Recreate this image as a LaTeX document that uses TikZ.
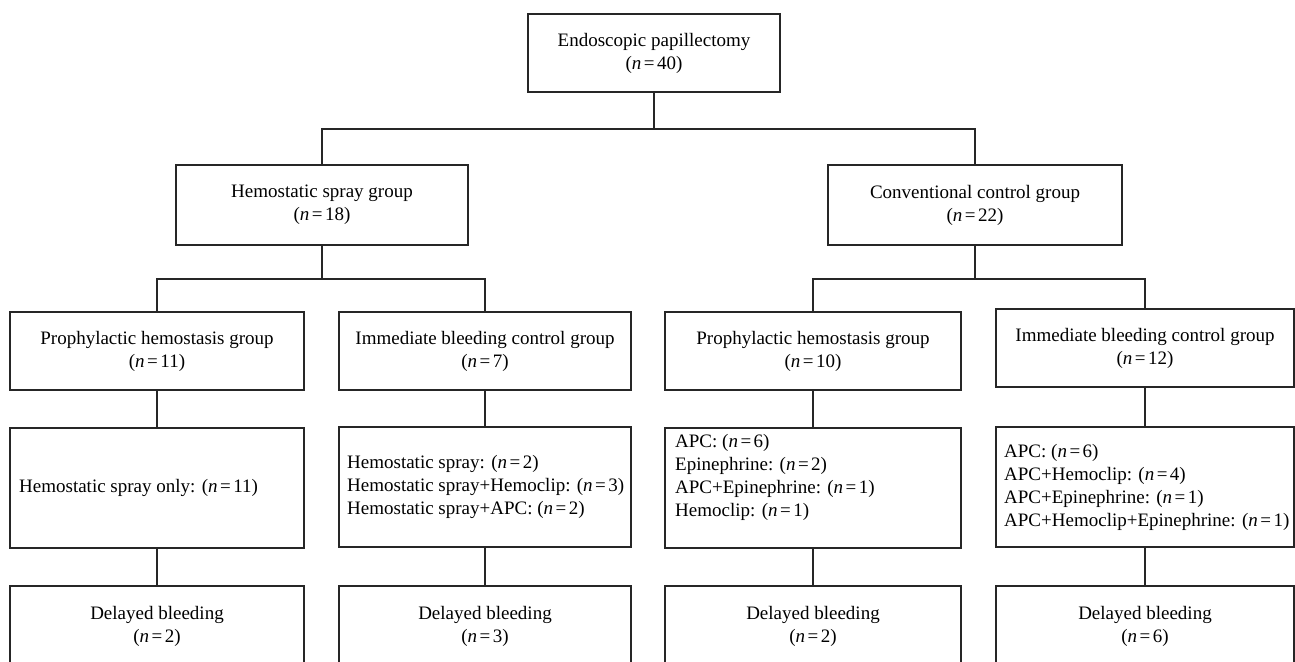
\documentclass[tikz,border=0pt]{standalone}
\usepackage{fontspec}
\setmainfont{Liberation Serif}
\usetikzlibrary{calc}
\newcommand\nval[1]{(\textit{n}\kern2.5pt=\kern2.5pt#1)}
\begin{document}
\begin{tikzpicture}[x=1pt,y=-1pt,
  box/.style={draw=black!85, line width=2pt, rectangle, inner sep=0pt, align=center, font=\fontsize{19}{23}\selectfont},
  txt/.style={inner sep=0pt, align=left, font=\fontsize{19}{23}\selectfont},
  conn/.style={draw=black!85, line width=2pt}]
\useasboundingbox (0,0) rectangle (1295,661);
\clip (0,0) rectangle (1295,661);
% level 1
\node[box, minimum width=252pt, minimum height=78pt] (top) at (654,53) {Endoscopic papillectomy\\\nval{40}};
% level 2
\node[box, minimum width=292pt, minimum height=80pt] (HS) at (322,205) {Hemostatic spray group\\\nval{18}};
\node[box, minimum width=294pt, minimum height=80pt] (CC) at (975,205) {Conventional control group\\\nval{22}};
% level 3
\node[box, minimum width=294pt, minimum height=78pt] (A1) at (157,351) {Prophylactic hemostasis group\\\nval{11}};
\node[box, minimum width=292pt, minimum height=78pt] (A2) at (485,351) {Immediate bleeding control group\\\nval{7}};
\node[box, minimum width=296pt, minimum height=78pt] (A3) at (813,351) {Prophylactic hemostasis group\\\nval{10}};
\node[box, minimum width=298pt, minimum height=78pt] (A4) at (1145,348) {Immediate bleeding control group\\\nval{12}};
% level 4
\node[box, minimum width=294pt, minimum height=120pt] (B1) at (157,488) {};
\node[box, minimum width=292pt, minimum height=120pt] (B2) at (485,487) {};
\node[box, minimum width=296pt, minimum height=120pt] (B3) at (813,488) {};
\node[box, minimum width=298pt, minimum height=120pt] (B4) at (1145,487) {};
\node[txt, anchor=west] (t1) at ($(B1.west)+(10,0)$) {Hemostatic spray only: \nval{11}};
\node[txt, anchor=west] (t2) at ($(B2.west)+(9,0)$) {Hemostatic spray: \nval{2}\\Hemostatic spray+Hemoclip: \nval{3}\\Hemostatic spray+APC: \nval{2}};
\node[txt, anchor=west] (t3) at ($(B3.west)+(11,-11)$) {APC: \nval{6}\\Epinephrine: \nval{2}\\APC+Epinephrine: \nval{1}\\Hemoclip: \nval{1}};
\node[txt, anchor=west] (t4) at ($(B4.west)+(9,0)$) {APC: \nval{6}\\APC+Hemoclip: \nval{4}\\APC+Epinephrine: \nval{1}\\APC+Hemoclip+Epinephrine: \nval{1}};
% level 5
\node[box, minimum width=294pt, minimum height=80pt] (C1) at (157,626) {Delayed bleeding\\\nval{2}};
\node[box, minimum width=292pt, minimum height=80pt] (C2) at (485,626) {Delayed bleeding\\\nval{3}};
\node[box, minimum width=296pt, minimum height=80pt] (C3) at (813,626) {Delayed bleeding\\\nval{2}};
\node[box, minimum width=298pt, minimum height=80pt] (C4) at (1145,626) {Delayed bleeding\\\nval{6}};
% connectors
\path (top.south) ++(0,36) coordinate (j1);
\draw[conn] (top.south) -- (j1);
\draw[conn] (HS.north) |- (j1) -| (CC.north);
\path (HS.south) ++(0,33) coordinate (j2);
\draw[conn] (HS.south) -- (j2);
\draw[conn] (A1.north) |- (j2) -| (A2.north);
\path (CC.south) ++(0,33) coordinate (j3);
\draw[conn] (CC.south) -- (j3);
\draw[conn] (A3.north) |- (j3) -| (A4.north);
\draw[conn] (A1.south) -- (B1.north);
\draw[conn] (A2.south) -- (B2.north);
\draw[conn] (A3.south) -- (B3.north);
\draw[conn] (A4.south) -- (B4.north);
\draw[conn] (B1.south) -- (C1.north);
\draw[conn] (B2.south) -- (C2.north);
\draw[conn] (B3.south) -- (C3.north);
\draw[conn] (B4.south) -- (C4.north);
\end{tikzpicture}
\end{document}
